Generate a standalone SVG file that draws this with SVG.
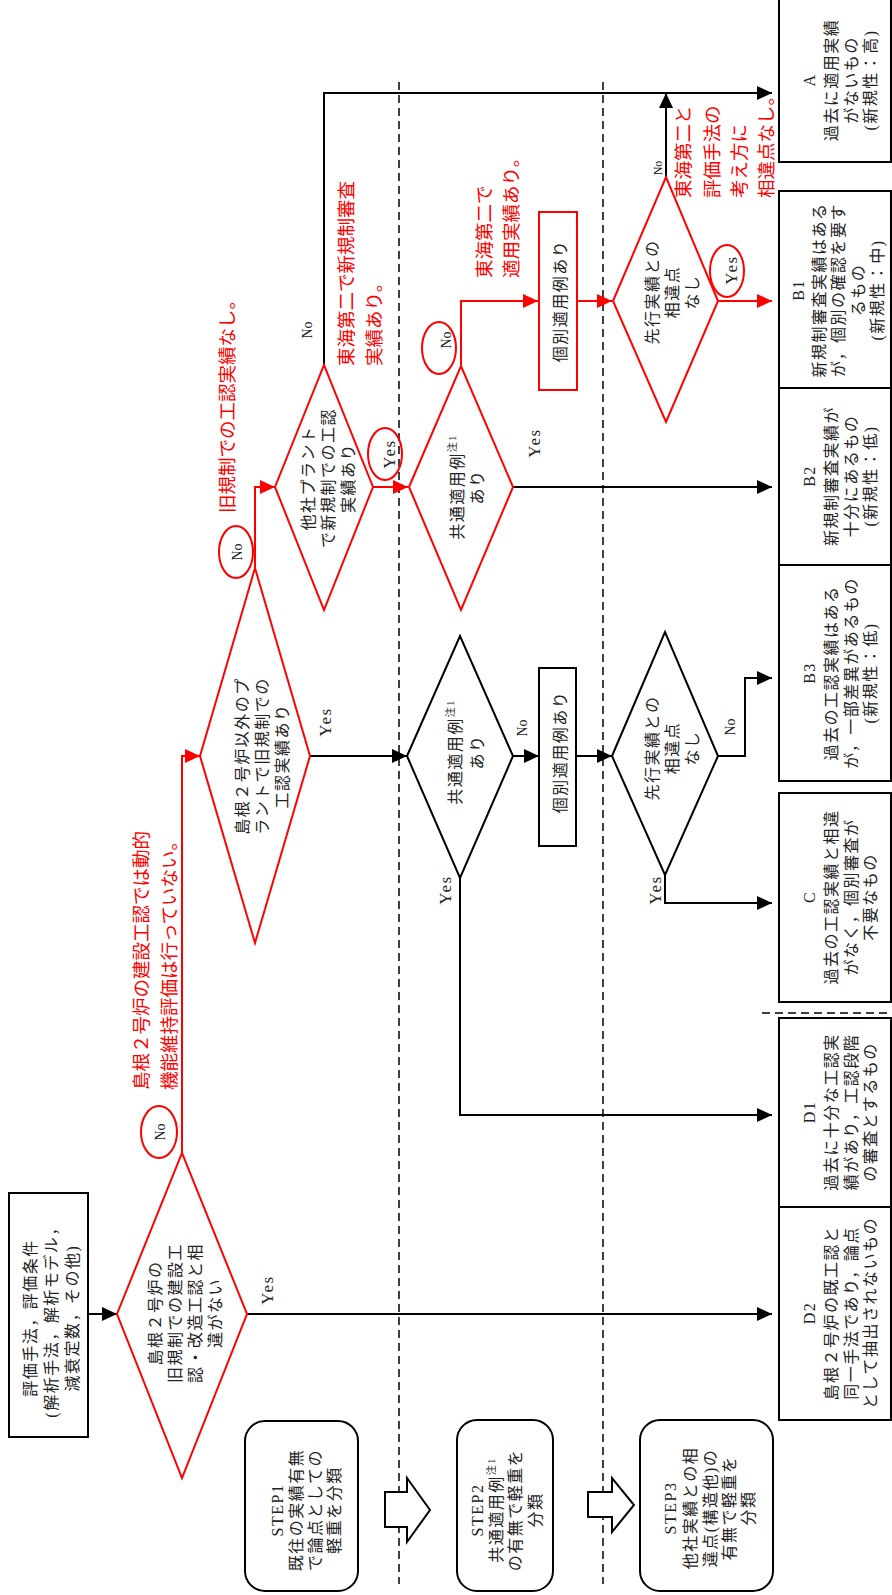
<svg xmlns="http://www.w3.org/2000/svg" width="892" height="1595" viewBox="0 0 892 1595">
<style>
.bl{stroke:#000;stroke-width:2;fill:none}
.rl{stroke:#f00;stroke-width:2;fill:none}
.bs{stroke:#000;stroke-width:2;fill:#fff}
.rs{stroke:#f00;stroke-width:2;fill:#fff}
.el{stroke:#f00;stroke-width:2;fill:none}
.dash{stroke:#000;stroke-width:1.5;stroke-dasharray:8 5;fill:none}
text{font-family:"Liberation Serif","Noto Sans CJK JP",serif;dominant-baseline:central}
.t{font-size:16px;letter-spacing:1.5px;text-anchor:middle;fill:#222}
.lb{font-size:17px;letter-spacing:1.5px;text-anchor:middle;fill:#222}
.sm{font-size:14px;text-anchor:middle;fill:#222}
.rt{font-size:18.5px;fill:#f00;text-anchor:start}
.sup{font-size:10px}
</style>
<defs>
<marker id="ab" markerWidth="15" markerHeight="14" refX="15" refY="7" orient="auto" markerUnits="userSpaceOnUse"><path d="M0,0 L15,7 L0,14 z" fill="#000"/></marker>
<marker id="ar" markerWidth="15" markerHeight="14" refX="15" refY="7" orient="auto" markerUnits="userSpaceOnUse"><path d="M0,0 L15,7 L0,14 z" fill="#f00"/></marker>
</defs>
<rect width="892" height="1595" fill="#fff"/>

<g id="dividers">
<line class="dash" x1="399" y1="82" x2="399" y2="1584"/>
<line class="dash" x1="603" y1="82" x2="603" y2="1584"/>
<line class="dash" x1="762" y1="1013" x2="892" y2="1013"/>
</g>

<g id="connectors">
<path class="bl" d="M88,1314 H117" marker-end="url(#ab)"/>
<path class="bl" d="M247,1314 H772" marker-end="url(#ab)"/>
<path class="bl" d="M310,756 H407" marker-end="url(#ab)"/>
<path class="bl" d="M513,756 H539" marker-end="url(#ab)"/>
<path class="bl" d="M576,756 H612" marker-end="url(#ab)"/>
<path class="bl" d="M718,756 H745 V678 H772" marker-end="url(#ab)"/>
<path class="bl" d="M665,875 V903 H772" marker-end="url(#ab)"/>
<path class="bl" d="M460,878 V1115 H772" marker-end="url(#ab)"/>
<path class="bl" d="M324,365 V93 H772" marker-end="url(#ab)"/>
<path class="bl" d="M666,177 V93" marker-end="url(#ab)"/>
<path class="bl" d="M513,487 H772" marker-end="url(#ab)"/>
<path class="rl" d="M182,1153 V756 H200" marker-end="url(#ar)"/>
<path class="rl" d="M255,568 V487 H275" marker-end="url(#ar)"/>
<path class="rl" d="M373,487 H408" marker-end="url(#ar)"/>
<path class="rl" d="M461,366 V301 H538" marker-end="url(#ar)"/>
<path class="rl" d="M577,301 H612" marker-end="url(#ar)"/>
<path class="rl" d="M718,301 H772" marker-end="url(#ar)"/>
<text class="lb" transform="translate(267,1290) rotate(-90)">Yes</text>
<text class="sm" transform="translate(307,330) rotate(-90)">No</text>
<text class="lb" transform="translate(534,443) rotate(-90)">Yes</text>
<text class="sm" transform="translate(658,168) rotate(-90)" style="font-size:12px">No</text>
<text class="lb" transform="translate(325,722) rotate(-90)">Yes</text>
<text class="sm" transform="translate(522,728) rotate(-90)">No</text>
<text class="lb" transform="translate(445,890) rotate(-90)">Yes</text>
<text class="sm" transform="translate(730,727) rotate(-90)">No</text>
<text class="lb" transform="translate(655,890) rotate(-90)">Yes</text>
<ellipse class="el" cx="159" cy="1132" rx="18" ry="26"/>
<text class="sm" transform="translate(160,1132) rotate(-90)">No</text>
<ellipse class="el" cx="236" cy="552" rx="17" ry="26"/>
<text class="sm" transform="translate(237,552) rotate(-90)">No</text>
<ellipse class="el" cx="385" cy="454" rx="17" ry="26"/>
<text class="lb" transform="translate(389,454) rotate(-90)">Yes</text>
<ellipse class="el" cx="439" cy="348" rx="17" ry="26"/>
<text class="sm" transform="translate(446,340) rotate(-90)">No</text>
<ellipse class="el" cx="727" cy="271" rx="17" ry="26"/>
<text class="lb" transform="translate(731,270) rotate(-90)">Yes</text>
</g>

<g id="annotations">
<text class="rt" transform="translate(142,1090) rotate(-90)">島根２号炉の建設工認では動的</text>
<text class="rt" transform="translate(170,1090) rotate(-90)">機能維持評価は行っていない。</text>
<text class="rt" transform="translate(228,513) rotate(-90)">旧規制での工認実績なし。</text>
<text class="rt" transform="translate(347,366) rotate(-90)">東海第二で新規制審査</text>
<text class="rt" transform="translate(375,366) rotate(-90)">実績あり。</text>
<text class="rt" transform="translate(485,278) rotate(-90)">東海第二で</text>
<text class="rt" transform="translate(512,278) rotate(-90)">適用実績あり。</text>
<text class="rt" transform="translate(684,198) rotate(-90)">東海第二と</text>
<text class="rt" transform="translate(713,198) rotate(-90)">評価手法の</text>
<text class="rt" transform="translate(740,198) rotate(-90)">考え方に</text>
<text class="rt" transform="translate(767,198) rotate(-90)">相違点なし。</text>
</g>

<g id="start">
<rect class="bs" x="9" y="1193" width="79" height="244"/>
<g transform="translate(0,1318) rotate(-90)">
<text class="t" y="30">評価手法，評価条件</text>
<text class="t" y="51">(解析手法，解析モデル，</text>
<text class="t" y="72">減衰定数，その他)</text>
</g>
</g>

<g id="q1">
<polygon class="rs" points="117,1314 182,1153 247,1314 182,1478"/>
<g transform="translate(0,1313) rotate(-90)">
<text class="t" y="155">島根２号炉の</text>
<text class="t" y="175">旧規制での建設工</text>
<text class="t" y="195">認・改造工認と相</text>
<text class="t" y="215">違がない</text>
</g>
</g>

<g id="q2">
<polygon class="rs" points="200,756 255,568 310,756 255,943"/>
<g transform="translate(0,756) rotate(-90)">
<text class="t" y="242">島根２号炉以外のプ</text>
<text class="t" y="262">ラントで旧規制での</text>
<text class="t" y="282">工認実績あり</text>
</g>
</g>

<g id="q3">
<polygon class="rs" points="275,487 324,365 373,487 324,610"/>
<g transform="translate(0,478) rotate(-90)">
<text class="t" y="308">他社プラント</text>
<text class="t" y="328">で新規制での工認</text>
<text class="t" y="348">実績あり</text>
</g>
</g>

<g id="q4">
<polygon class="rs" points="409,487 461,366 513,487 461,610"/>
<g transform="translate(0,487) rotate(-90)">
<text class="t" y="457">共通適用例<tspan class="sup" dy="-5">注1</tspan></text>
<text class="t" y="477">あり</text>
</g>
</g>

<g id="r1">
<rect class="rs" x="539" y="212" width="38" height="178"/>
<text class="t" transform="translate(560,301) rotate(-90)">個別適用例あり</text>
</g>

<g id="q5">
<polygon class="rs" points="613,301 666,177 718,301 666,422"/>
<g transform="translate(0,292) rotate(-90)">
<text class="t" y="652">先行実績との</text>
<text class="t" y="672">相違点</text>
<text class="t" y="692">なし</text>
</g>
</g>

<g id="q6">
<polygon class="bs" points="407,756 460,636 513,756 460,878"/>
<g transform="translate(0,752) rotate(-90)">
<text class="t" y="455">共通適用例<tspan class="sup" dy="-5">注1</tspan></text>
<text class="t" y="477">あり</text>
</g>
</g>

<g id="r2">
<rect class="bs" x="539" y="668" width="37" height="178"/>
<text class="t" transform="translate(560,752) rotate(-90)">個別適用例あり</text>
</g>

<g id="q7">
<polygon class="bs" points="612,756 665,632 718,756 665,875"/>
<g transform="translate(0,748) rotate(-90)">
<text class="t" y="652">先行実績との</text>
<text class="t" y="672">相違点</text>
<text class="t" y="692">なし</text>
</g>
</g>

<g id="boxA">
<rect class="bs" x="779" y="-2" width="112" height="164"/>
<g transform="translate(0,80) rotate(-90)">
<text class="t" y="809">A</text>
<text class="t" y="831">過去に適用実績</text>
<text class="t" y="851">がないもの</text>
<text class="t" y="870">(新規性：高)</text>
</g>
</g>

<g id="boxB1">
<rect class="bs" x="779" y="191" width="112" height="197"/>
<g transform="translate(0,290) rotate(-90)">
<text class="t" y="798">B1</text>
<text class="t" y="819">新規制審査実績はある</text>
<text class="t" y="838">が，個別の確認を要す</text>
<text class="t" y="858">るもの</text>
<text class="t" y="877">(新規性：中)</text>
</g>
</g>

<g id="boxB2">
<rect class="bs" x="779" y="388" width="112" height="177"/>
<g transform="translate(0,476) rotate(-90)">
<text class="t" y="809">B2</text>
<text class="t" y="831">新規制審査実績が</text>
<text class="t" y="851">十分にあるもの</text>
<text class="t" y="870">(新規性：低)</text>
</g>
</g>

<g id="boxB3">
<rect class="bs" x="779" y="565" width="112" height="216"/>
<g transform="translate(0,673) rotate(-90)">
<text class="t" y="809">B3</text>
<text class="t" y="831">過去の工認実績はある</text>
<text class="t" y="851">が，一部差異があるもの</text>
<text class="t" y="870">(新規性：低)</text>
</g>
</g>

<g id="boxC">
<rect class="bs" x="779" y="793" width="112" height="209"/>
<g transform="translate(0,897) rotate(-90)">
<text class="t" y="809">C</text>
<text class="t" y="831">過去の工認実績と相違</text>
<text class="t" y="851">がなく，個別審査が</text>
<text class="t" y="870">不要なもの</text>
</g>
</g>

<g id="boxD1">
<rect class="bs" x="779" y="1018" width="112" height="189"/>
<g transform="translate(0,1112) rotate(-90)">
<text class="t" y="809">D1</text>
<text class="t" y="831">過去に十分な工認実</text>
<text class="t" y="851">績があり，工認段階</text>
<text class="t" y="870">の審査とするもの</text>
</g>
</g>

<g id="boxD2">
<rect class="bs" x="779" y="1207" width="112" height="213"/>
<g transform="translate(0,1313) rotate(-90)">
<text class="t" y="809">D2</text>
<text class="t" y="831">島根２号炉の既工認と</text>
<text class="t" y="851">同一手法であり，論点</text>
<text class="t" y="870">として抽出されないもの</text>
</g>
</g>

<g id="step1">
<rect class="bs" x="245" y="1421" width="113" height="170" rx="20"/>
<g transform="translate(0,1510) rotate(-90)">
<text class="t" y="277">STEP1</text>
<text class="t" y="296">既往の実績有無</text>
<text class="t" y="315">で論点としての</text>
<text class="t" y="334">軽重を分類</text>
</g>
</g>

<g id="arrow1">
<path class="bs" d="M385,1492 H407 V1478 L430,1510 L407,1542 V1527 H385 Z"/>
</g>

<g id="step2">
<rect class="bs" x="457" y="1420" width="96" height="171" rx="20"/>
<g transform="translate(0,1510) rotate(-90)">
<text class="t" y="477">STEP2</text>
<text class="t" y="496">共通適用例<tspan class="sup" dy="-5">注1</tspan></text>
<text class="t" y="515">の有無で軽重を</text>
<text class="t" y="535">分類</text>
</g>
</g>

<g id="arrow2">
<path class="bs" d="M588,1492 H612 V1478 L634,1505 L612,1532 V1517 H588 Z"/>
</g>

<g id="step3">
<rect class="bs" x="640" y="1420" width="133" height="171" rx="20"/>
<g transform="translate(0,1508) rotate(-90)">
<text class="t" y="670">STEP3</text>
<text class="t" y="690">他社実績との相</text>
<text class="t" y="710">違点(構造他)の</text>
<text class="t" y="729">有無で軽重を</text>
<text class="t" y="748">分類</text>
</g>
</g>
</svg>
